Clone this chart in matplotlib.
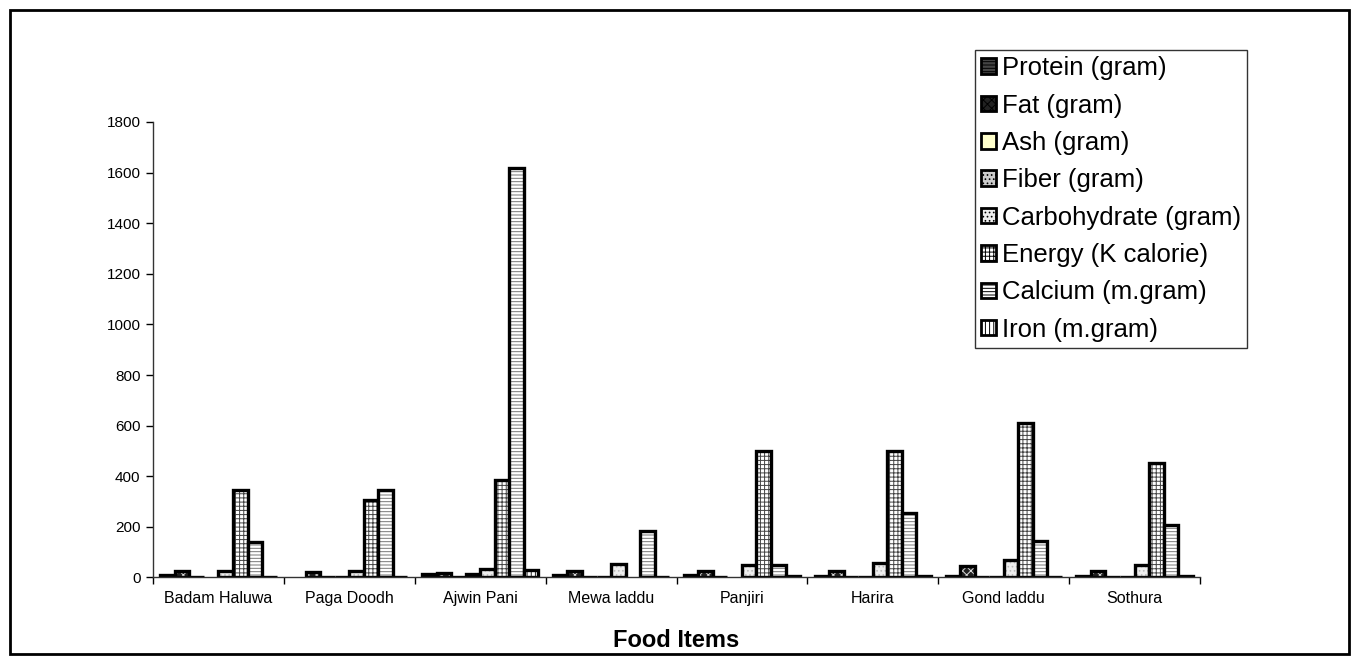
import matplotlib.pyplot as plt
import numpy as np
from matplotlib.patches import Patch, Rectangle

plt.rcParams['font.family'] = ['Liberation Sans', 'DejaVu Sans']
plt.rcParams['hatch.linewidth'] = 0.7

foods = ['Badam Haluwa', 'Paga Doodh', 'Ajwin Pani', 'Mewa laddu',
         'Panjiri', 'Harira', 'Gond laddu', 'Sothura']

series_names = ['Protein (gram)', 'Fat (gram)', 'Ash (gram)', 'Fiber (gram)',
                'Carbohydrate (gram)', 'Energy (K calorie)', 'Calcium (m.gram)',
                'Iron (m.gram)']

protein = [10, 0, 12, 8, 8, 4, 4, 6]
fat = [25, 20, 18, 24, 27, 27, 47, 27]
ash = [2, 2, 3, 1, 1, 1, 1, 1]
fiber = [0, 1, 15, 1, 0, 1, 1, 1]
carbohydrate = [25, 25, 35, 55, 50, 57, 70, 48]
energy = [345, 305, 385, 0, 498, 500, 610, 453]
calcium = [142, 345, 1620, 182, 50, 253, 146, 208]
iron = [2, 3, 28, 2, 4, 5, 3, 5]

values = [protein, fat, ash, fiber, carbohydrate, energy, calcium, iron]

# fill colour, hatch pattern, hatch colour for each series
styles = [
    ('#444444', '-----', '#aaaaaa'),
    ('#222222', 'xxxx', '#dddddd'),
    ('#ffffcc', '', '#ffffcc'),
    ('#cccccc', '....', '#888888'),
    ('#eeeeee', '....', '#bbbbbb'),
    ('#ffffff', '++++', '#444444'),
    ('#ffffff', '-----', '#777777'),
    ('#ffffff', '||||', '#222222'),
]

fig = plt.figure(figsize=(13.59, 6.64), dpi=100)
ax = fig.add_axes([0.1126, 0.1303, 0.7704, 0.686])

x = np.arange(len(foods))
w = 1 / 9
for j, vals in enumerate(values):
    fc, hatch, hc = styles[j]
    pos = x + (j - 3.5) * w
    vals = np.array(vals, dtype=float)
    lw = [2.4 if v > 0 else 0 for v in vals]
    # hatched fill first, then the heavy black outline on top
    ax.bar(pos, vals, w, facecolor=fc, edgecolor=hc, hatch=hatch, linewidth=0)
    ax.bar(pos, vals, w, fill=False, edgecolor='black', linewidth=lw)

ax.set_xlim(-0.5, len(foods) - 0.5)
ax.set_ylim(0, 1800)
ax.set_yticks(np.arange(0, 1801, 200))
ax.set_xticks(x)
ax.set_xticklabels(foods, fontsize=11.5)
ax.set_xticks(np.arange(-0.5, len(foods)), minor=True)
ax.tick_params(axis='x', which='major', length=0, pad=10)
ax.tick_params(axis='x', which='minor', length=5, width=1, direction='out')
ax.tick_params(axis='y', length=5, width=1, direction='out', labelsize=11, pad=4)

for side in ['top', 'right']:
    ax.spines[side].set_visible(False)
for side in ['left', 'bottom']:
    ax.spines[side].set_linewidth(1)
    ax.spines[side].set_color('#333333')

ax.set_xlabel('Food Items', fontsize=17, fontweight='bold', labelpad=16)

handles = [Patch(facecolor=s[0], edgecolor='black', hatch=s[1], linewidth=2)
           for s in styles]
leg = fig.legend(handles, series_names, loc='upper left',
                 bbox_to_anchor=(0.7174, 0.9250), bbox_transform=fig.transFigure,
                 fontsize=18.5, frameon=True, fancybox=False, borderaxespad=0,
                 handlelength=0.55, handleheight=0.55, handletextpad=0.25,
                 labelspacing=0.52, borderpad=0.25)
leg.get_frame().set_edgecolor('black')
leg.get_frame().set_linewidth(1)

# outer frame round the whole chart
fig.patches.append(Rectangle((10 / 1359, 10 / 664), 1339 / 1359, 644 / 664,
                             transform=fig.transFigure, fill=False,
                             edgecolor='black', linewidth=2))

fig.savefig('out.png', dpi=100)
